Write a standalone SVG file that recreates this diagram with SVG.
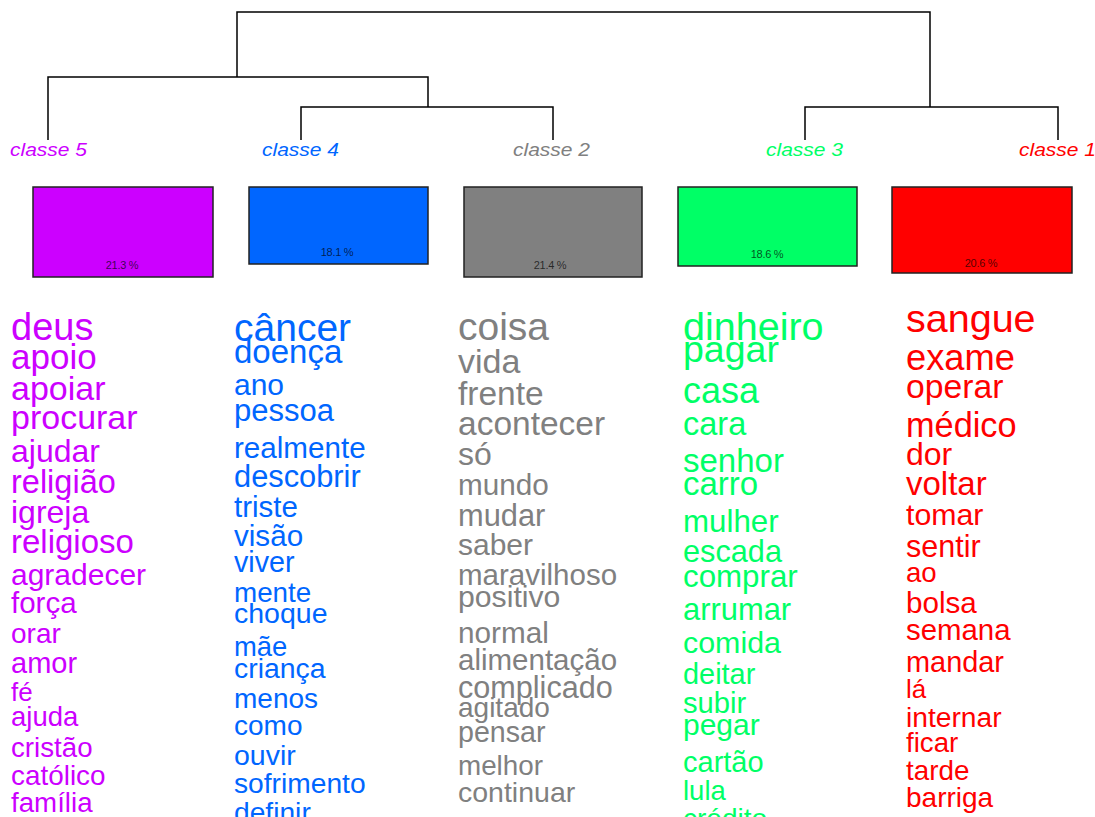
<svg xmlns="http://www.w3.org/2000/svg" width="1095" height="817" viewBox="0 0 1095 817">
<style>
text{font-family:"Liberation Sans",Arial,sans-serif}
.lbl{font-size:18px;font-style:italic}
.pct{font-size:11px;fill:#000;fill-opacity:0.7;text-anchor:middle;letter-spacing:-0.3px}
.box{stroke:#222;stroke-width:1.5}
.c5{fill:#CC00FF}.c4{fill:#0066FF}.c2{fill:#808080}.c3{fill:#00FF66}.c1{fill:#FF0000}
</style>
<rect width="1095" height="817" fill="#fff"/>
<g id="connectors" fill="none" stroke="#000" stroke-width="1.5">
<path d="M237,77V12H930V107"/>
<path d="M48,140V77H428V107"/>
<path d="M301,140V107H553V140"/>
<path d="M805,140V107H1058V140"/>
</g>
<g id="classe5">
<text class="lbl c5" x="10" y="156" textLength="77" lengthAdjust="spacingAndGlyphs">classe  5</text>
<rect class="box c5" x="33" y="187" width="180" height="90"/>
<text class="pct" x="122" y="269">21.3 %</text>
<g class="c5">
<text x="11" y="340" font-size="38">deus</text>
<text x="11" y="369" font-size="35">apoio</text>
<text x="11" y="400" font-size="34">apoiar</text>
<text x="11" y="429" font-size="34">procurar</text>
<text x="11" y="462" font-size="32">ajudar</text>
<text x="11" y="493" font-size="32.5">religião</text>
<text x="11" y="523" font-size="32">igreja</text>
<text x="11" y="553" font-size="33">religioso</text>
<text x="11" y="585" font-size="30">agradecer</text>
<text x="11" y="613" font-size="29.5">força</text>
<text x="11" y="643" font-size="28">orar</text>
<text x="11" y="673" font-size="29">amor</text>
<text x="11" y="701" font-size="26">fé</text>
<text x="11" y="726" font-size="27.5">ajuda</text>
<text x="11" y="757" font-size="27.7">cristão</text>
<text x="11" y="785" font-size="27.9">católico</text>
<text x="11" y="812" font-size="27.7">família</text>
</g>
</g>
<g id="classe4">
<text class="lbl c4" x="262" y="156" textLength="77" lengthAdjust="spacingAndGlyphs">classe  4</text>
<rect class="box c4" x="249" y="187" width="179" height="77"/>
<text class="pct" x="337" y="256">18.1 %</text>
<g class="c4">
<text x="234" y="341" font-size="39">câncer</text>
<text x="234" y="363" font-size="33">doença</text>
<text x="234" y="395" font-size="30">ano</text>
<text x="234" y="421" font-size="31">pessoa</text>
<text x="234" y="458" font-size="29.6">realmente</text>
<text x="234" y="487" font-size="30.8">descobrir</text>
<text x="234" y="517" font-size="29.5">triste</text>
<text x="234" y="546" font-size="29.6">visão</text>
<text x="234" y="572" font-size="28.7">viver</text>
<text x="234" y="602" font-size="27.8">mente</text>
<text x="234" y="623" font-size="28.5">choque</text>
<text x="234" y="656" font-size="27.4">mãe</text>
<text x="234" y="678" font-size="28.4">criança</text>
<text x="234" y="708" font-size="28">menos</text>
<text x="234" y="735" font-size="28">como</text>
<text x="234" y="765" font-size="28.5">ouvir</text>
<text x="234" y="793" font-size="28.2">sofrimento</text>
<text x="234" y="822" font-size="28.2">definir</text>
</g>
</g>
<g id="classe2">
<text class="lbl c2" x="513" y="156" textLength="77" lengthAdjust="spacingAndGlyphs">classe  2</text>
<rect class="box c2" x="464" y="187" width="178" height="90"/>
<text class="pct" x="550" y="269">21.4 %</text>
<g class="c2">
<text x="458" y="340" font-size="39">coisa</text>
<text x="458" y="373" font-size="34">vida</text>
<text x="458" y="405" font-size="33.5">frente</text>
<text x="458" y="435" font-size="33.5">acontecer</text>
<text x="458" y="465" font-size="32">só</text>
<text x="458" y="495" font-size="29.7">mundo</text>
<text x="458" y="526" font-size="30.8">mudar</text>
<text x="458" y="555" font-size="30">saber</text>
<text x="458" y="585" font-size="29.5">maravilhoso</text>
<text x="458" y="607" font-size="30.2">positivo</text>
<text x="458" y="643" font-size="29.7">normal</text>
<text x="458" y="670" font-size="29.5">alimentação</text>
<text x="458" y="698" font-size="30.6">complicado</text>
<text x="458" y="717" font-size="28">agitado</text>
<text x="458" y="742" font-size="28.6">pensar</text>
<text x="458" y="775" font-size="27.8">melhor</text>
<text x="458" y="802" font-size="28.5">continuar</text>
</g>
</g>
<g id="classe3">
<text class="lbl c3" x="766" y="156" textLength="77" lengthAdjust="spacingAndGlyphs">classe  3</text>
<rect class="box c3" x="678" y="187" width="179" height="79"/>
<text class="pct" x="767" y="258">18.6 %</text>
<g class="c3">
<text x="683" y="340" font-size="39.5">dinheiro</text>
<text x="683" y="362" font-size="37.5">pagar</text>
<text x="683" y="403" font-size="36">casa</text>
<text x="683" y="435" font-size="32.5">cara</text>
<text x="683" y="472" font-size="33">senhor</text>
<text x="683" y="495" font-size="33">carro</text>
<text x="683" y="532" font-size="31.3">mulher</text>
<text x="683" y="562" font-size="30.7">escada</text>
<text x="683" y="587" font-size="31.3">comprar</text>
<text x="683" y="620" font-size="30.9">arrumar</text>
<text x="683" y="653" font-size="30.4">comida</text>
<text x="683" y="684" font-size="28.9">deitar</text>
<text x="683" y="713" font-size="29.2">subir</text>
<text x="683" y="735" font-size="30">pegar</text>
<text x="683" y="772" font-size="29">cartão</text>
<text x="683" y="800" font-size="27.5">lula</text>
<text x="683" y="828" font-size="28">crédito</text>
</g>
</g>
<g id="classe1">
<text class="lbl c1" x="1019" y="156" textLength="77" lengthAdjust="spacingAndGlyphs">classe  1</text>
<rect class="box c1" x="892" y="187" width="180" height="86"/>
<text class="pct" x="981" y="267">20.6 %</text>
<g class="c1">
<text x="906" y="332" font-size="39.5">sangue</text>
<text x="906" y="370" font-size="36.3">exame</text>
<text x="906" y="398" font-size="33.7">operar</text>
<text x="906" y="437" font-size="34.3">médico</text>
<text x="906" y="465" font-size="32">dor</text>
<text x="906" y="495" font-size="33">voltar</text>
<text x="906" y="525" font-size="30.3">tomar</text>
<text x="906" y="557" font-size="30.5">sentir</text>
<text x="906" y="582" font-size="27.6">ao</text>
<text x="906" y="613" font-size="29.6">bolsa</text>
<text x="906" y="640" font-size="29.4">semana</text>
<text x="906" y="672" font-size="28.9">mandar</text>
<text x="906" y="698" font-size="26">lá</text>
<text x="906" y="727" font-size="28.2">internar</text>
<text x="906" y="752" font-size="27.7">ficar</text>
<text x="906" y="780" font-size="27.8">tarde</text>
<text x="906" y="807" font-size="28">barriga</text>
</g>
</g>
</svg>
